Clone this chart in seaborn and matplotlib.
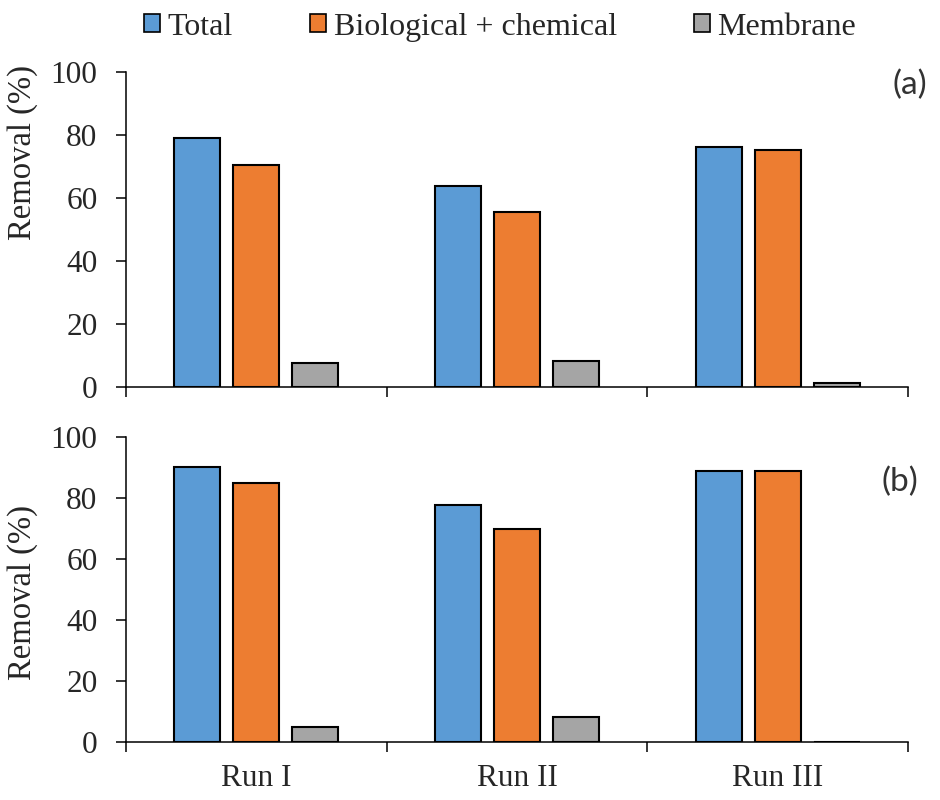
import matplotlib
matplotlib.use("Agg")
import matplotlib.pyplot as plt
from matplotlib.patches import Patch
import pandas as pd
import seaborn as sns

# Data
runs = ["Run I", "Run II", "Run III"]
components = ["Total", "Biological + chemical", "Membrane"]
removal_a_total = [79.0, 63.7, 76.3]
removal_a_biochem = [70.6, 55.4, 75.1]
removal_a_membrane = [7.6, 8.3, 1.3]
removal_b_total = [90.0, 77.5, 88.8]
removal_b_biochem = [84.8, 69.6, 88.7]
removal_b_membrane = [4.7, 8.0, 0.0]
panel_labels = ["(a)", "(b)"]
yticks = [0, 20, 40, 60, 80, 100]

colors = ["#5B9BD5", "#ED7D31", "#A5A5A5"]


def long_frame(total, biochem, membrane):
    rows = []
    for comp, vals in zip(components, [total, biochem, membrane]):
        for run, v in zip(runs, vals):
            rows.append({"run": run, "component": comp, "removal": v})
    return pd.DataFrame(rows)


df_a = long_frame(removal_a_total, removal_a_biochem, removal_a_membrane)
df_b = long_frame(removal_b_total, removal_b_biochem, removal_b_membrane)

sns.set_style("white")
plt.rcParams["font.family"] = ["Liberation Serif", "DejaVu Serif"]
text_color = "#262626"

fig = plt.figure(figsize=(9.4, 8.0), dpi=100)
ax_a = fig.add_axes([0.134, 0.5166, 0.832, 0.3934])
ax_b = fig.add_axes([0.134, 0.0729, 0.832, 0.3813])

panels = [
    (ax_a, df_a, panel_labels[0], (1.024, 0.959), 0.743),
    (ax_b, df_b, panel_labels[1], (1.013, 0.851), 0.488),
]

for ax, df, label, lab_xy, ylab_y in panels:
    sns.barplot(
        data=df, x="run", y="removal", hue="component",
        hue_order=components, order=runs, palette=colors,
        width=0.68, gap=0.22, edgecolor="black", linewidth=1.5,
        saturation=1, legend=False, ax=ax,
    )
    ax.set_xlim(-0.5, 2.5)
    ax.set_ylim(0, 100)
    ax.set_yticks(yticks)
    ax.set_yticklabels([str(t) for t in yticks])
    # Boundary ticks between runs, run labels centred beneath
    ax.set_xticks([-0.5, 0.5, 1.5, 2.5])
    ax.set_xticklabels([])
    ax.set_xticks([0, 1, 2], minor=True)
    ax.tick_params(axis="x", which="major", bottom=True, direction="out",
                   length=7.5, width=1.1, color="black")
    ax.tick_params(axis="x", which="minor", bottom=True, length=0, pad=16,
                   labelsize=22.5, labelcolor=text_color)
    ax.tick_params(axis="y", left=True, direction="out", length=7.5,
                   width=1.1, color="black", labelsize=22.5,
                   labelcolor=text_color, pad=13)
    ax.set_xlabel("")
    ax.set_ylabel("Removal (%)", fontsize=23.5, color=text_color)
    ax.yaxis.set_label_coords(-0.113, ylab_y)
    for side in ["top", "right"]:
        ax.spines[side].set_visible(False)
    for side in ["left", "bottom"]:
        ax.spines[side].set_color("black")
        ax.spines[side].set_linewidth(1.1)
    ax.text(lab_xy[0], lab_xy[1], label, transform=ax.transAxes,
            ha="right", va="center", fontsize=24, color="#333333",
            family=["Lato", "DejaVu Sans"], clip_on=False)

ax_a.set_xticklabels([], minor=True)
ax_b.set_xticklabels(runs, minor=True)

handles = [Patch(facecolor=c, edgecolor="black", linewidth=1.2) for c in colors]
fig.legend(handles, components, loc="center", bbox_to_anchor=(0.532, 0.966),
           ncol=3, frameon=False, fontsize=23, handlelength=0.5,
           handleheight=0.5, handletextpad=0.25, columnspacing=2.4,
           labelcolor=text_color)

fig.savefig("out.png", dpi=100)
